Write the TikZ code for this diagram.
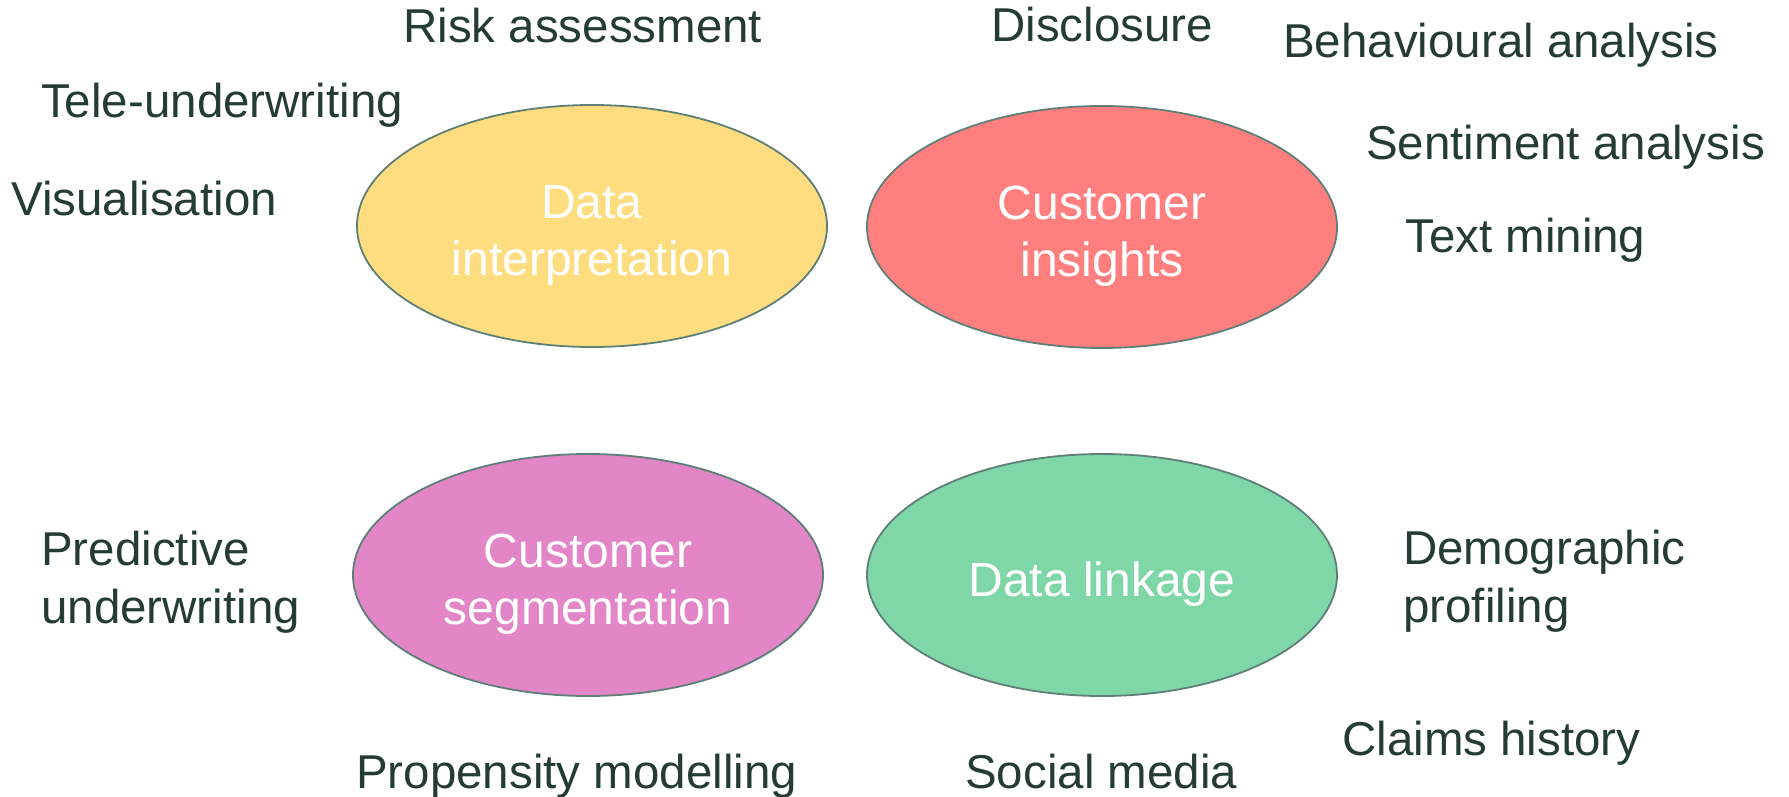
\documentclass[tikz,border=0pt]{standalone}
\usepackage{fontspec}
\setmainfont{Liberation Sans}
\usetikzlibrary{shapes.geometric}
\definecolor{labeltext}{HTML}{243C33}
\definecolor{rimline}{HTML}{5E7F78}
\definecolor{fillyellow}{HTML}{FDDD80}
\definecolor{fillred}{HTML}{FF7F7F}
\definecolor{fillpink}{HTML}{E286C8}
\definecolor{fillgreen}{HTML}{7FD7A8}
\tikzset{
  area/.style={ellipse, draw=rimline, line width=1.8pt, minimum width=470pt,
    minimum height=242pt, inner sep=0pt},
  areatext/.style={inner sep=0pt, text=white, align=center,
    font=\fontsize{48}{57}\selectfont},
  tag/.style={anchor=base west, inner sep=0pt, text=labeltext, align=left,
    font=\fontsize{47.5}{58}\selectfont}
}
\begin{document}
\begin{tikzpicture}[x=1pt, y=-1pt]
\useasboundingbox (0,0) rectangle (1789,797);

% four technique areas
\node[area, fill=fillyellow] (interp)  at (592,226)  {};
\node[area, fill=fillred]    (insight) at (1102,227) {};
\node[area, fill=fillpink]   (segment) at (588,575)  {};
\node[area, fill=fillgreen]  (linkage) at (1102,575) {};

\node[areatext] (interp-t)  at ([yshift=-9pt]interp.center)  {Data\\interpretation};
\node[areatext] (insight-t) at ([yshift=-9pt]insight.center) {Customer\\insights};
\node[areatext] (segment-t) at ([yshift=-9pt]segment.center) {Customer\\segmentation};
\node[areatext] (linkage-t) at ([yshift=-9pt]linkage.center) {Data linkage};

% surrounding applications
\node[tag] (risk)   at (403,43)   {Risk assessment};
\node[tag] (tele)   at (41,118)   {Tele-underwriting};
\node[tag] (visual) at (11,215)   {Visualisation};
\node[tag] (disc)   at (991,42)   {Disclosure};
\node[tag] (behav)  at (1283,58)  {Behavioural analysis};
\node[tag] (senti)  at (1366,160) {Sentiment analysis};
\node[tag] (textm)  at (1405,252) {Text mining};
\node[tag] (predict) at (41,623)  {Predictive\\underwriting};
\node[tag] (demo)   at (1403,622) {Demographic\\profiling};
\node[tag] (claims) at (1342,755) {Claims history};
\node[tag] (prop)   at (356,788)  {Propensity modelling};
\node[tag] (social) at (965,788)  {Social media};
\end{tikzpicture}
\end{document}
